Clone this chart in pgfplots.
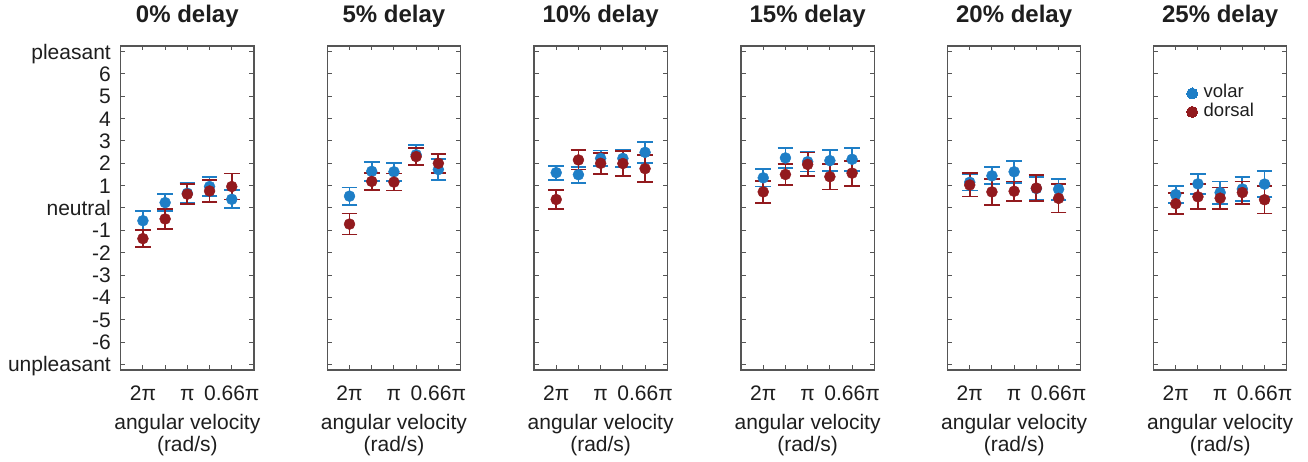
\documentclass[border=0pt]{standalone}
\usepackage{fontspec}
\setmainfont{Liberation Sans}
\usepackage{pgfplots}
\usepackage{pgfplotstable}
\pgfplotsset{compat=1.18}
\definecolor{volar}{RGB}{30,126,198}
\definecolor{dorsal}{RGB}{146,26,30}
\definecolor{axgray}{RGB}{85,85,85}
\definecolor{txt}{RGB}{30,30,30}

\pgfplotstableread{
x v ve d de
1 -0.57 0.44 -1.37 0.38
2 0.24 0.37 -0.49 0.45
3 0.66 0.45 0.62 0.44
4 0.96 0.43 0.76 0.50
5 0.39 0.40 0.96 0.58
}\tA
\pgfplotstableread{
x v ve d de
1 0.53 0.39 -0.72 0.47
2 1.64 0.42 1.19 0.38
3 1.62 0.40 1.16 0.38
4 2.38 0.43 2.30 0.38
5 1.72 0.47 2.00 0.42
}\tB
\pgfplotstableread{
x v ve d de
1 1.58 0.31 0.38 0.43
2 1.49 0.36 2.15 0.43
3 2.22 0.35 2.00 0.47
4 2.22 0.40 1.99 0.57
5 2.49 0.47 1.76 0.60
}\tC
\pgfplotstableread{
x v ve d de
1 1.35 0.39 0.72 0.50
2 2.24 0.45 1.50 0.48
3 2.07 0.44 1.95 0.53
4 2.12 0.48 1.40 0.57
5 2.18 0.51 1.56 0.56
}\tD
\pgfplotstableread{
x v ve d de
1 1.15 0.37 1.03 0.52
2 1.44 0.38 0.72 0.58
3 1.62 0.50 0.75 0.44
4 0.87 0.50 0.89 0.57
5 0.84 0.47 0.43 0.63
}\tE
\pgfplotstableread{
x v ve d de
1 0.60 0.39 0.19 0.47
2 1.08 0.45 0.50 0.56
3 0.69 0.50 0.44 0.48
4 0.85 0.53 0.69 0.50
5 1.07 0.57 0.37 0.62
}\tF

\pgfplotsset{
  panel/.style={
    scale only axis, width=133.3pt, height=324pt,
    anchor=south west,
    xmin=0, xmax=6, ymin=-7.25, ymax=7.25,
    xtick={1,2,3,4,5}, xticklabels={2π,,π,,0.66π},
    ytick={-7,-6,...,7},
    yticklabels={},
    tick align=inside, major tick length=4.5pt,
    axis line style={axgray, line width=1.2pt},
    tick style={axgray, line width=1pt},
    font=\fontsize{21}{22.7}\selectfont,
    every tick label/.append style={text=txt},
    xticklabel style={anchor=base, yshift=-30.5pt, inner sep=0pt},
    yticklabel style={anchor=base east, inner sep=0pt, xshift=-9.7pt, yshift=-7.5pt},
    title style={at={(0.5,1)}, anchor=base, yshift=17.7pt, inner sep=0pt, text=txt,
      font=\bfseries\fontsize{24}{28}\selectfont},
    xlabel={angular velocity\\(rad/s)},
    xlabel style={at={(0.5,0)}, anchor=north, yshift=-43.7pt, align=center, text=txt,
      inner sep=0pt, font=\fontsize{21}{22.7}\selectfont},
  },
  vstyle/.style={only marks, mark=*, mark size=5.5pt, color=volar,
    mark options={draw=none, fill=volar},
    error bars/.cd, y dir=both, y explicit,
    error bar style={line width=1.8pt, color=volar},
    error mark options={rotate=90, mark size=7.8pt, line width=1.8pt, draw=volar}},
  dstyle/.style={only marks, mark=*, mark size=5.5pt, color=dorsal,
    mark options={draw=none, fill=dorsal},
    error bars/.cd, y dir=both, y explicit,
    error bar style={line width=1.8pt, color=dorsal},
    error mark options={rotate=90, mark size=7.8pt, line width=1.8pt, draw=dorsal}},
}

\begin{document}
\begin{tikzpicture}
\useasboundingbox (0,0) rectangle (1308pt,462pt);

\begin{axis}[panel, at={(120.7pt,92pt)}, title={0\% delay},
  yticklabels={unpleasant,-6,-5,-4,-3,-2,-1,neutral,1,2,3,4,5,6,pleasant}]
\addplot[vstyle] table[x=x, y=v, y error=ve]{\tA};
\addplot[dstyle] table[x=x, y=d, y error=de]{\tA};
\end{axis}

\begin{axis}[panel, at={(327.3pt,92pt)}, title={5\% delay}]
\addplot[vstyle] table[x=x, y=v, y error=ve]{\tB};
\addplot[dstyle] table[x=x, y=d, y error=de]{\tB};
\end{axis}

\begin{axis}[panel, at={(534pt,92pt)}, title={10\% delay}]
\addplot[vstyle] table[x=x, y=v, y error=ve]{\tC};
\addplot[dstyle] table[x=x, y=d, y error=de]{\tC};
\end{axis}

\begin{axis}[panel, at={(741pt,92pt)}, title={15\% delay}]
\addplot[vstyle] table[x=x, y=v, y error=ve]{\tD};
\addplot[dstyle] table[x=x, y=d, y error=de]{\tD};
\end{axis}

\begin{axis}[panel, at={(947.5pt,92pt)}, title={20\% delay}]
\addplot[vstyle] table[x=x, y=v, y error=ve]{\tE};
\addplot[dstyle] table[x=x, y=d, y error=de]{\tE};
\end{axis}

\begin{axis}[panel, at={(1153.5pt,92pt)}, title={25\% delay},
  legend style={draw=none, fill=none, text=txt, font=\fontsize{18.5}{18.4}\selectfont,
    at={(0.225,0.825)}, anchor=west, row sep=0pt, column sep=6pt,
    nodes={inner sep=0pt, text height=13.5pt, text depth=4.9pt}},
  legend cell align=left,
  legend image code/.code={\draw[#1] plot coordinates {(0pt,0pt)};}]
\addlegendimage{only marks, mark=*, mark size=5.5pt, mark options={draw=volar, line width=0pt, fill=volar}}
\addlegendentry{volar}
\addlegendimage{only marks, mark=*, mark size=5.5pt, mark options={draw=dorsal, line width=0pt, fill=dorsal}}
\addlegendentry{dorsal}
\addplot[forget plot, vstyle] table[x=x, y=v, y error=ve]{\tF};
\addplot[forget plot, dstyle] table[x=x, y=d, y error=de]{\tF};
\end{axis}
\end{tikzpicture}
\end{document}
